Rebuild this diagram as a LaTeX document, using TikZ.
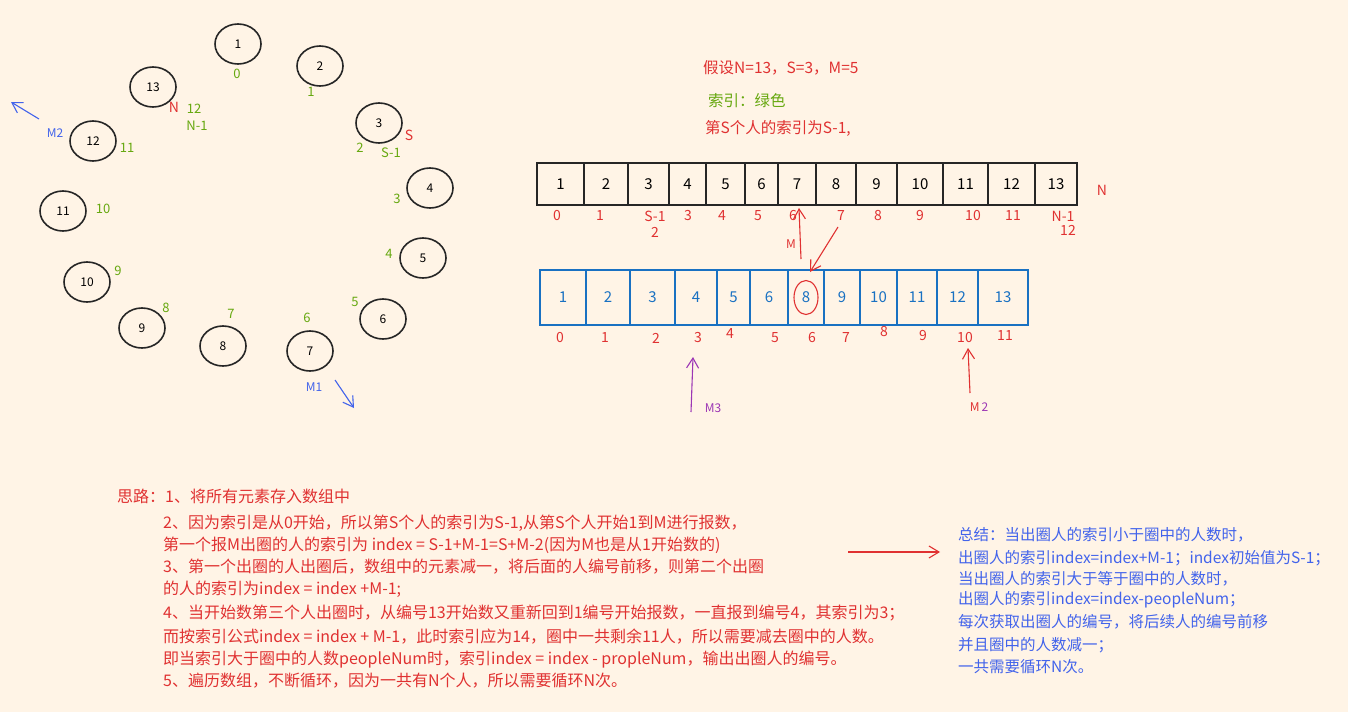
\documentclass[tikz,border=0pt]{standalone}
\usepackage{fontspec}
\setmainfont{Noto Sans CJK SC}
\usetikzlibrary{arrows.meta,shapes.geometric}
\definecolor{paper}{RGB}{255,244,230}
\definecolor{inkred}{RGB}{224,49,49}
\definecolor{inkgreen}{RGB}{102,168,15}
\definecolor{inkblue}{RGB}{25,113,194}
\definecolor{noteblue}{RGB}{66,99,235}
\definecolor{inkpurple}{RGB}{156,54,181}
\tikzset{
	person/.style={draw=black!85, line width=1.6pt, ellipse, minimum width=46pt, minimum height=40pt, inner sep=0pt, font=\fontsize{12}{14}\selectfont},
	gidx/.style={text=inkgreen, inner sep=0pt, font=\fontsize{13}{15}\selectfont},
	ridx/.style={text=inkred, inner sep=0pt, font=\fontsize{14}{16}\selectfont},
	cell/.style={draw=black!85, line width=1.2pt, minimum height=42pt, inner sep=0pt, font=\fontsize{15}{17}\selectfont},
	bcell/.style={draw=inkblue, text=inkblue, line width=1.2pt, minimum height=55pt, inner sep=0pt, font=\fontsize{15}{17}\selectfont},
	note/.style={anchor=west, inner sep=0pt, font=\fontsize{15.5}{18}\selectfont},
	hand/.style={-{Straight Barb[length=10pt,width=12pt]}, line width=1.1pt}
}
\begin{document}
\begin{tikzpicture}[x=1pt,y=-1pt]

	\fill[paper] (0,0) rectangle (1348,712);
	\useasboundingbox (0,0) rectangle (1348,712);

	% the circle of people
	\foreach \n/\px/\py in {1/238/44, 2/320/66, 3/379/123, 4/430/188, 5/423/258, 6/383/319, 7/310/351, 8/223/346, 9/142/328, 10/87/282, 11/63/211, 12/93/141, 13/153/87}
		\node[person] (p\n) at (\px,\py) {\n};

	\foreach \t/\px/\py in {0/237/74, 1/311/92, 2/360/148, 3/397/199, 4/389/254, 5/355/302, 6/307/318, 7/231/314, 8/166/308, 9/118/271, 10/103/209, 11/127/148, 12/194/109}
		\node[gidx] (g\t) at (\px,\py) {\t};
	\node[gidx] (gn) at (197,126) {N-1};
	\node[gidx] (gs) at (391,153) {S-1};
	\node[ridx] (rs) at (409,135) {S};
	\node[ridx] (rn) at (174,107) {N};

	% rounds of counting
	\coordinate (m1tail) at (335,380);
	\coordinate (m1head) at (354,408);
	\coordinate (m2tail) at (39,119);
	\coordinate (m2head) at (11,102);
	\draw[hand, noteblue] (m1tail) -- (m1head);
	\draw[hand, noteblue] (m2tail) -- (m2head);
	\node[text=noteblue, inner sep=0pt, font=\fontsize{12}{14}\selectfont] (m1) at (314,387) {M1};
	\node[text=noteblue, inner sep=0pt, font=\fontsize{12}{14}\selectfont] (m2) at (55,133) {M2};

	% notes
	\node[note, text=inkred] (given) at (703,68) {假设N=13，S=3，M=5};
	\node[note, text=inkgreen] (legend) at (708,101) {索引：绿色};
	\node[note, text=inkred] (start) at (705,128) {第S个人的索引为S-1,};

	% first array
	\foreach \l/\r [count=\i] in {537/584, 584/628, 628/669, 669/706, 706/745, 745/778, 778/816, 816/856, 856/897, 897/943, 943/988, 988/1035, 1035/1077}
		\node[cell, minimum width={(\r-\l)*1pt}] (a\i) at ({(\l+\r)/2},184) {\i};
	\foreach \t/\px [count=\i] in {0/557, 1/600, S-1/655, 3/688, 4/722, 5/758, 6/793, 7/841, 8/878, 9/920, 10/973, 11/1013, N-1/1063}
		\node[ridx] (ia\i) at (\px,216) {\t};
	\node[ridx] (ia3b) at (655,232) {2};
	\node[ridx] (ia13b) at (1068,230) {12};
	\node[ridx] (an) at (1102,190) {N};

	% second array
	\foreach \l/\r/\t [count=\i] in {540/586/1, 586/630/2, 630/675/3, 675/717/4, 717/750/5, 750/788/6, 788/824/8, 824/860/9, 860/897/10, 897/937/11, 937/978/12, 978/1028/13}
		\node[bcell, minimum width={(\r-\l)*1pt}] (b\i) at ({(\l+\r)/2},297.5) {\t};
	\foreach \t/\px/\py in {0/560/338, 1/605/338, 2/656/338, 3/698/338, 4/730/334, 5/775/338, 6/812/338, 7/846/338, 8/884/332, 9/923/336, 10/965/338, 11/1005/336}
		\node[ridx] (ib\t) at (\px,\py) {\t};
	\draw[inkred, line width=1.1pt] (b7.center) ellipse (12pt and 17pt);

	\coordinate (mtail) at (801,259);
	\coordinate (mhead) at (799,208);
	\coordinate (dtail) at (838,227);
	\coordinate (dhead) at (810,272);
	\coordinate (m3tail) at (691,412);
	\coordinate (m3head) at (693,357);
	\coordinate (m2btail) at (970,393);
	\coordinate (m2bhead) at (968,348);
	\draw[hand, inkred] (mtail) -- (mhead);
	\draw[hand, inkred] (dtail) -- (dhead);
	\draw[hand, inkpurple] (m3tail) -- (m3head);
	\draw[hand, inkred] (m2btail) -- (m2bhead);
	\node[text=inkred, inner sep=0pt, font=\fontsize{12}{14}\selectfont] (mm) at (791,244) {M};
	\node[text=inkpurple, inner sep=0pt, font=\fontsize{12}{14}\selectfont] (m3) at (713,408) {M3};
	\node[inner sep=0pt, font=\fontsize{12}{14}\selectfont] (m2b) at (979,407) {\textcolor{inkred}{M}\,\textcolor{inkpurple}{2}};

	% the idea
	\begin{scope}[every node/.style={note, text=inkred, font=\fontsize{16}{19}\selectfont}]
		\node (t1) at (117,496) {思路：1、将所有元素存入数组中};
		\node (t2) at (163,523) {2、因为索引是从0开始，所以第S个人的索引为S-1,从第S个人开始1到M进行报数，};
		\node (t3) at (163,545) {第一个报M出圈的人的索引为 index = S-1+M-1=S+M-2(因为M也是从1开始数的)};
		\node (t4) at (163,567) {3、第一个出圈的人出圈后，数组中的元素减一，将后面的人编号前移，则第二个出圈};
		\node (t5) at (163,589) {的人的索引为index = index +M-1;};
		\node (t6) at (163,613) {4、当开始数第三个人出圈时，从编号13开始数又重新回到1编号开始报数，一直报到编号4，其索引为3；};
		\node (t7) at (163,637) {而按索引公式index = index + M-1，此时索引应为14，圈中一共剩余11人，所以需要减去圈中的人数。};
		\node (t8) at (163,660) {即当索引大于圈中的人数peopleNum时，索引index = index - propleNum，输出出圈人的编号。};
		\node (t9) at (163,681) {5、遍历数组，不断循环，因为一共有N个人，所以需要循环N次。};
	\end{scope}

	% summary
	\begin{scope}[every node/.style={note, text=noteblue}]
		\node (s1) at (958,535) {总结：当出圈人的索引小于圈中的人数时，};
		\node (s2) at (958,558) {出圈人的索引index=index+M-1；index初始值为S-1；};
		\node (s3) at (958,579) {当出圈人的索引大于等于圈中的人数时，};
		\node (s4) at (958,600) {出圈人的索引index=index-peopleNum；};
		\node (s5) at (958,622) {每次获取出圈人的编号，将后续人的编号前移};
		\node (s6) at (958,645) {并且圈中的人数减一；};
		\node (s7) at (958,667) {一共需要循环N次。};
	\end{scope}
	\coordinate (leadin) at (848,552);
	\coordinate (leadout) at (940,552);
	\draw[hand, inkred] (leadin) -- (leadout);

\end{tikzpicture}
\end{document}
